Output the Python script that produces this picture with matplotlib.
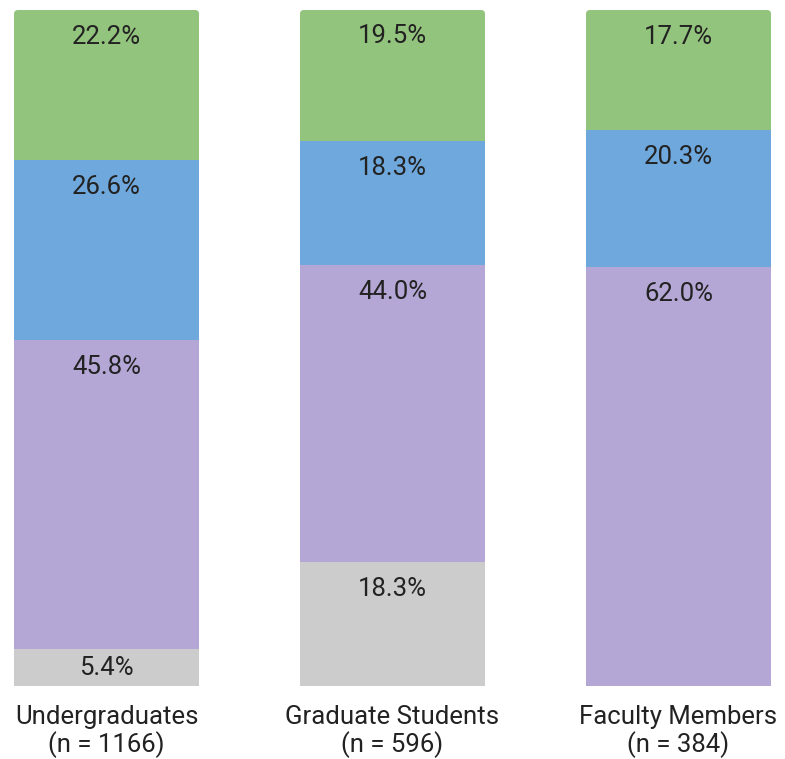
import matplotlib.pyplot as plt
from matplotlib.patches import FancyBboxPatch
import numpy as np

plt.rcParams['font.family'] = ['Roboto', 'DejaVu Sans']

groups = ["Undergraduates\n(n = 1166)", "Graduate Students\n(n = 596)", "Faculty Members\n(n = 384)"]
# stacked from bottom to top
gray = [5.4, 18.3, 0.0]
purple = [45.8, 44.0, 62.0]
blue = [26.6, 18.3, 20.3]
green = [22.2, 19.5, 17.7]

series = [gray, purple, blue, green]
colors = ["#cccccc", "#b4a7d6", "#6fa8dc", "#93c47d"]

fig = plt.figure(figsize=(7.85, 7.59), dpi=100)
ax = fig.add_axes([14 / 785, 73 / 759, 757 / 785, 676 / 759])

x = np.arange(len(groups))
width = 0.647
ax.set_xlim(-width / 2, 2 + width / 2)
ax.set_ylim(0, 100)

# rounded top corners (about 4 px)
px_x = 757 / (2 + width)
px_y = 676 / 100
clips = []
for xi in x:
    p = FancyBboxPatch((xi - width / 2, -10), width, 110,
                       boxstyle=f"round,pad=0,rounding_size={4 / px_x}",
                       mutation_aspect=px_x / px_y, transform=ax.transData)
    clips.append(p)

bottom = np.zeros(len(groups))
for vals, col in zip(series, colors):
    vals = np.array(vals)
    bars = ax.bar(x, vals, width, bottom=bottom, color=col, edgecolor="none")
    for b, c in zip(bars, clips):
        b.set_clip_path(c)
    for xi, b, v in zip(x, bottom, vals):
        if v > 0:
            ty = max(b + v - 4.0, b + v / 2)
            ax.text(xi, ty, f"{v:.1f}%", ha="center", va="center",
                    fontsize=18.5, color="#222222")
    bottom += vals

ax.set_xticks(x)
ax.set_xticklabels(groups, fontsize=18.5, color="#222222", linespacing=1.1)
ax.tick_params(axis="x", length=0, pad=14)
ax.set_yticks([])
for s in ax.spines.values():
    s.set_visible(False)

fig.savefig("out.png", dpi=100)
